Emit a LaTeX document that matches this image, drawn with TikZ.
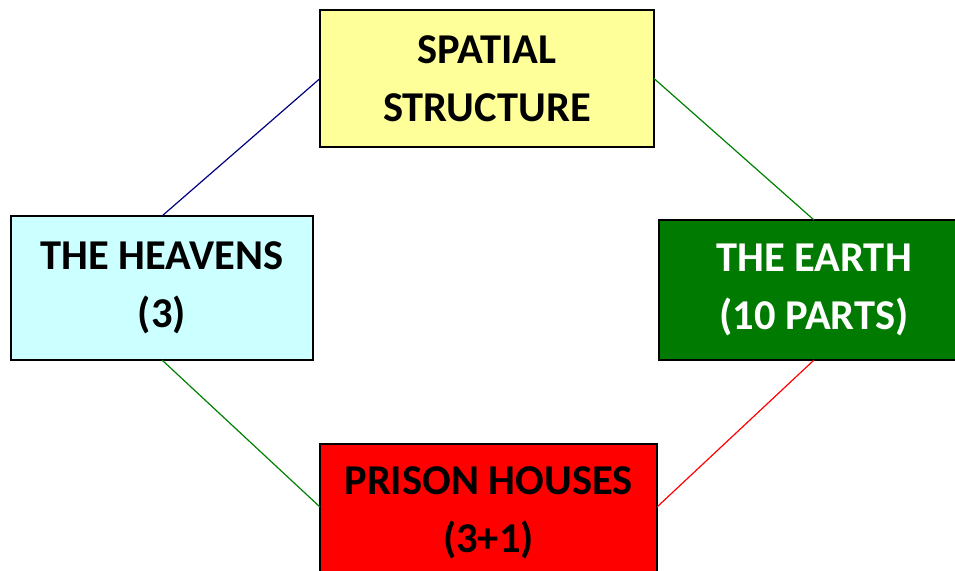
\documentclass[tikz,border=0pt]{standalone}
\usepackage{fontspec}
\setmainfont{Carlito}
\definecolor{boxyellow}{HTML}{FFFF99}
\definecolor{boxcyan}{HTML}{CCFFFF}
\definecolor{boxgreen}{HTML}{007A00}
\definecolor{boxred}{HTML}{FF0000}
\definecolor{linenavy}{HTML}{000080}
\definecolor{linegreen}{HTML}{008000}
\begin{document}
\begin{tikzpicture}[x=1pt,y=-1pt,
  box/.style={draw=black, line width=1.6pt, inner sep=0pt, outer sep=0pt, align=center,
    font=\bfseries\fontsize{42.5}{58}\selectfont},
  link/.style={line width=1.2pt}]
\useasboundingbox (0,0) rectangle (955,570);
\clip (0,0) rectangle (955,570);
\node[box, fill=boxyellow, minimum width=334pt, minimum height=137pt] (top) at (487,78.5) {SPATIAL\\STRUCTURE};
\node[box, fill=boxcyan, minimum width=302pt, minimum height=144pt] (left) at (162,288) {THE HEAVENS\\(3)};
\node[box, fill=boxgreen, text=white, minimum width=310pt, minimum height=140pt] (right) at (814,290) {THE EARTH\\(10 PARTS)};
\node[box, fill=boxred, minimum width=337pt, minimum height=137pt] (bottom) at (488.5,512.5) {PRISON HOUSES\\(3+1)};
\draw[link, linenavy] (top.west) -- (left.north);
\draw[link, linegreen] (top.east) -- (right.north);
\draw[link, linegreen] (left.south) -- ([yshift=5.5pt]bottom.west);
\draw[link, boxred] (right.south) -- ([yshift=5.5pt]bottom.east);
\end{tikzpicture}
\end{document}
